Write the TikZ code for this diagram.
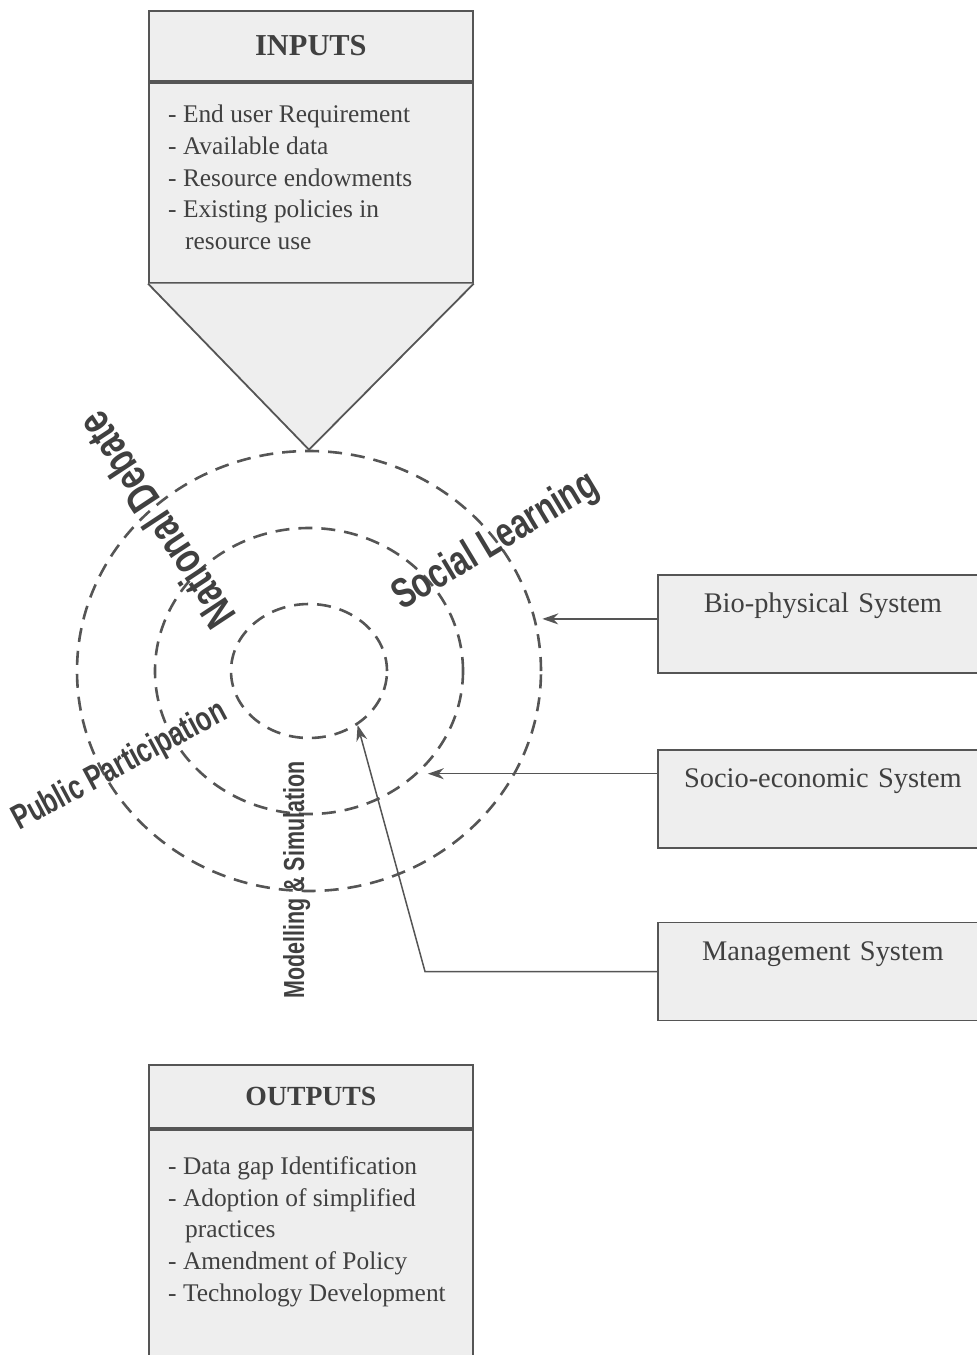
\documentclass[tikz,border=0pt]{standalone}
\usepackage{fontspec}
\setmainfont{Liberation Serif}
\newfontfamily\ringfont[FakeStretch=0.74]{Liberation Sans}
\usetikzlibrary{shapes.geometric,arrows.meta,positioning,calc}
\definecolor{inkgray}{HTML}{404040}
\definecolor{linegray}{HTML}{555555}
\definecolor{panelgray}{HTML}{EEEEEE}

\begin{document}
\begin{tikzpicture}[x=1pt, y=-1pt,
    header/.style={rectangle, draw=linegray, fill=panelgray, line width=1.8pt, minimum width=324pt, minimum height=70pt, text=inkgray},
    panel/.style={rectangle, draw=linegray, fill=panelgray, line width=1.8pt, minimum width=324pt},
    listtext/.style={align=left, inner sep=0pt, text=inkgray, font=\fontsize{25.4}{31.7}\selectfont},
    sysbox/.style={rectangle, draw=linegray, fill=panelgray, line width=1.8pt, inner sep=0pt, text width=330pt, text height=38pt, text depth=60pt, align=center, font=\fontsize{28.4}{28.4}\selectfont, text=inkgray},
    ring/.style={ellipse, draw=linegray, line width=2.6pt, dash pattern=on 14pt off 9pt, inner sep=0pt},
    ringlabel/.style={anchor=base west, inner sep=0pt, text=inkgray},
    arrow/.style={-{Stealth[length=16pt, width=11pt]}, draw=linegray, line width=1.5pt}
]
    \useasboundingbox (0,0) rectangle (977,1355);

    % Rings
    \node[ring, minimum width=464pt, minimum height=440pt] (outer) at (309,671) {};
    \node[ring, minimum width=308pt, minimum height=286pt] (middle) at (309,671) {};
    \node[ring, minimum width=156pt, minimum height=134pt] (inner) at (309,671) {};

    % Inputs panel
    \node[header, anchor=north west, font=\fontsize{30.4}{30.4}\selectfont\bfseries] (inhead) at (148,10) {INPUTS};
    \node[panel, minimum height=200pt, below=0pt of inhead] (inbody) {};
    \draw[draw=linegray, fill=panelgray, line width=1.8pt] (inbody.south west) -- (outer.north) -- (inbody.south east);
    \node[listtext, anchor=north west] (inlist) at ([xshift=20pt, yshift=-23pt]inbody.north west) {- End user Requirement\\- Available data\\- Resource endowments\\- Existing policies in\\\hspace*{17pt}resource use};

    % Outputs panel
    \node[header, anchor=north west, minimum height=63pt, font=\fontsize{27.7}{27.7}\selectfont\bfseries] (outhead) at (148,1064) {OUTPUTS};
    \node[panel, minimum height=260pt, below=0pt of outhead] (outbody) {};
    \node[listtext, anchor=north west] (outlist) at ([xshift=20pt, yshift=-27.5pt]outbody.north west) {- Data gap Identification\\- Adoption of simplified\\\hspace*{17pt}practices\\- Amendment of Policy\\- Technology Development};

    % System boxes
    \node[sysbox, anchor=north west] (bio) at (657,574) {Bio-physical System};
    \node[sysbox, below=75pt of bio] (socio) {Socio-economic System};
    \node[sysbox, below=73pt of socio] (mgmt) {Management System};

    % Connectors into the rings
    \coordinate (bio in) at ([yshift=5pt]bio.west);
    \coordinate (socio in) at ([yshift=25pt]socio.west);
    \draw[arrow] (bio in) -- (bio in -| outer.east);
    \draw[arrow] (socio in) -- (socio in -| middle.322);
    \draw[arrow] (mgmt.west) -- ([xshift=-232pt]mgmt.west) -- (inner.312);

    % Ring labels
    \node[ringlabel, font=\ringfont\bfseries\fontsize{42}{42}\selectfont, rotate=31] (social) at (402,611) {Social Learning};
    \node[ringlabel, font=\ringfont\bfseries\fontsize{44.5}{44.5}\selectfont, rotate=123.4] (debate) at (238,616) {National Debate};
    \node[ringlabel, font=\ringfont\bfseries\fontsize{34.5}{34.5}\selectfont, rotate=28.2] (public) at (19,831) {Public Participation};
    \node[ringlabel, font=\ringfont\bfseries\fontsize{29}{29}\selectfont, rotate=90] (model) at (304,999) {Modelling \& Simulation};
\end{tikzpicture}
\end{document}
